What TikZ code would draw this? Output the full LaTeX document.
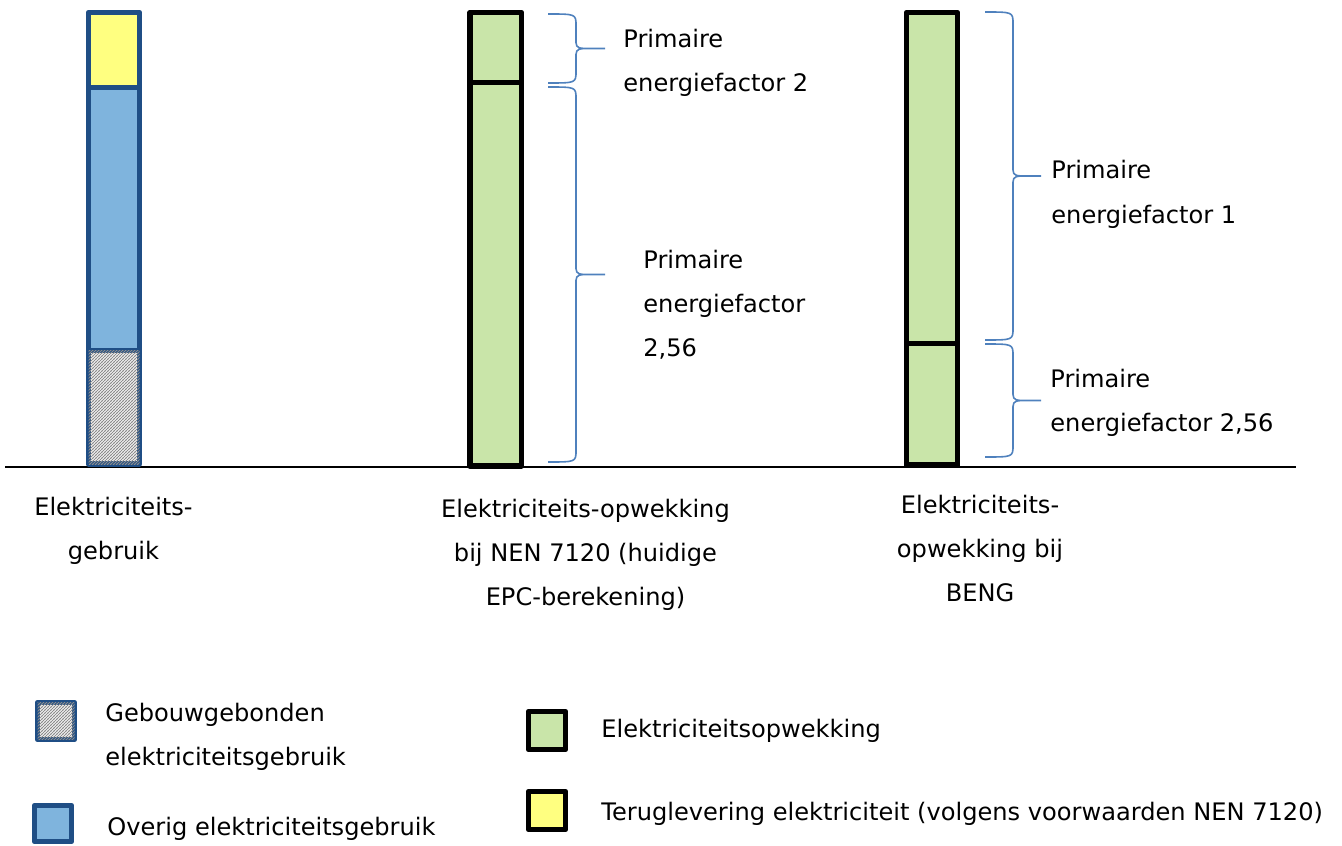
\documentclass[tikz,border=0pt]{standalone}
\usepackage{fontspec}
\setmainfont{DejaVu Sans}
\usepackage{tikz}
\usetikzlibrary{patterns}
\usepackage{xcolor}

\definecolor{usebluedark}{HTML}{1F4E85}
\definecolor{useblue}{HTML}{7FB4DD}
\definecolor{genyellow}{HTML}{FFFF80}
\definecolor{gengreen}{HTML}{C9E5A9}
\definecolor{braceblue}{HTML}{4F81BD}
\definecolor{hatchgrey}{HTML}{8C8C8C}

\pgfdeclarepatternformonly{finehatch}{\pgfqpoint{-1pt}{-1pt}}{\pgfqpoint{2pt}{2pt}}{\pgfqpoint{1.5pt}{1.5pt}}%
{\pgfsetlinewidth{0.45pt}\pgfpathmoveto{\pgfqpoint{-0.1pt}{-0.1pt}}\pgfpathlineto{\pgfqpoint{1.6pt}{1.6pt}}\pgfusepath{stroke}}

% brace: {start x}{vertical x}{tip x}{top y}{bottom y}
\newcommand{\officebrace}[5]{%
\draw[brace] (#1,#4) .. controls (#2,#4) .. (#2,{#4+12})
  -- (#2,{(#4+#5)/2-6}) .. controls (#2,{(#4+#5)/2}) and ({#2+4},{(#4+#5)/2}) .. ({#2+14},{(#4+#5)/2}) -- (#3,{(#4+#5)/2})
  -- ({#2+14},{(#4+#5)/2}) .. controls ({#2+4},{(#4+#5)/2}) and (#2,{(#4+#5)/2}) .. (#2,{(#4+#5)/2+6})
  -- (#2,{#5-12}) .. controls (#2,#5) .. (#1,#5);}

\begin{document}
\begin{tikzpicture}[x=0.5pt,y=-0.5pt]
\tikzstyle{usebox} = [draw=usebluedark, line width=2.8pt, line join=round]
\tikzstyle{genbox} = [draw=black, line width=2.8pt, line join=round]
\tikzstyle{hatched} = [fill=white, postaction={pattern=finehatch, pattern color=hatchgrey}]
\tikzstyle{brace} = [draw=braceblue, line width=0.8pt]
\tikzstyle{txt} = [inner sep=0pt, font=\fontsize{12.05}{22}\selectfont]

\useasboundingbox (0,0) rectangle (1342,845);

% axis
\coordinate (axisL) at (5,467);
\coordinate (axisR) at (1296,467);
\draw[line width=0.8pt] (axisL) -- (axisR);

% bar 1: use
\draw[usebox, fill=genyellow] (88.5,12.5) rectangle (139.5,87.5);
\draw[usebox, fill=useblue] (88.5,87.5) rectangle (139.5,350.5);
\draw[usebox, hatched] (88.5,350.5) rectangle (139.5,464);

% bar 2: NEN 7120
\draw[genbox, fill=gengreen] (470,12.5) rectangle (521.5,82.5);
\draw[genbox, fill=gengreen] (470,82.5) rectangle (521.5,466);

% bar 3: BENG
\draw[genbox, fill=gengreen] (906.5,12.5) rectangle (957.5,343.5);
\draw[genbox, fill=gengreen] (906.5,343.5) rectangle (957.5,465);

% braces
\officebrace{548}{576}{605}{14}{83}
\officebrace{548}{576}{605}{87}{462}
\officebrace{985}{1013}{1041}{12}{340}
\officebrace{985}{1013}{1041}{344}{457}

% base anchor sits on the last line
\node[txt, anchor=base west, align=left] (pef2) at (623,92) {Primaire\\energiefactor 2};
\node[txt, anchor=base west, align=left] (pefA) at (643,356) {Primaire\\energiefactor\\2,56};
\node[txt, anchor=base west, align=left] (pef1) at (1051,223) {Primaire\\energiefactor 1};
\node[txt, anchor=base west, align=left] (pefB) at (1050,431) {Primaire\\energiefactor 2,56};

% bar labels
\node[txt, anchor=base, align=center] (lbl1) at (113.5,559) {Elektriciteits-\\gebruik};
\node[txt, anchor=base, align=center] (lbl2) at (585.5,605) {Elektriciteits-opwekking\\bij NEN 7120 (huidige\\EPC-berekening)};
\node[txt, anchor=base, align=center] (lbl3) at (980,601) {Elektriciteits-\\opwekking bij\\BENG};

% legend
\draw[usebox, hatched] (37.5,702.5) rectangle (74.5,739.5);
\draw[usebox, fill=useblue] (34.5,805.5) rectangle (71.5,841.5);
\draw[genbox, fill=gengreen] (528.5,711.5) rectangle (565.5,749.5);
\draw[genbox, fill=genyellow] (528.5,791.5) rectangle (565.5,829.5);

\node[txt, anchor=base west, align=left] (leg1) at (105,765) {Gebouwgebonden\\elektriciteitsgebruik};
\node[txt, anchor=base west] (leg2) at (107,835) {Overig elektriciteitsgebruik};
\node[txt, anchor=base west] (leg3) at (601,737) {Elektriciteitsopwekking};
\node[txt, anchor=base west] (leg4) at (601,820) {Teruglevering elektriciteit (volgens voorwaarden NEN 7120)};
\end{tikzpicture}
\end{document}
